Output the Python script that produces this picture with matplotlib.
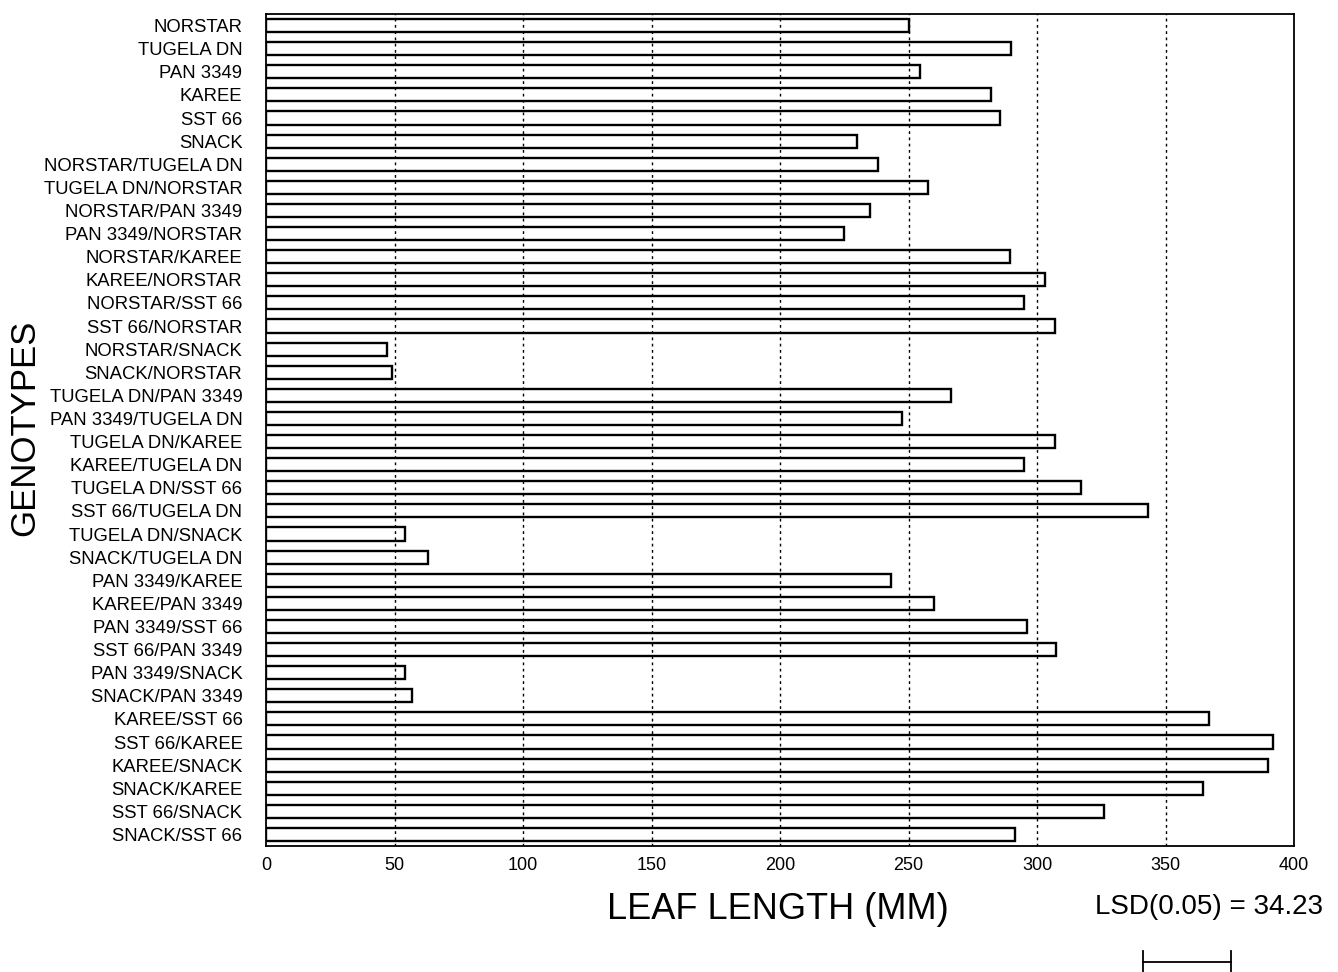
import matplotlib
matplotlib.use("Agg")
import matplotlib.pyplot as plt
from matplotlib.transforms import blended_transform_factory

plt.rcParams['font.family'] = ['Liberation Sans', 'DejaVu Sans']

genotypes = [
    "NORSTAR", "TUGELA DN", "PAN 3349", "KAREE", "SST 66", "SNACK",
    "NORSTAR/TUGELA DN", "TUGELA DN/NORSTAR", "NORSTAR/PAN 3349", "PAN 3349/NORSTAR",
    "NORSTAR/KAREE", "KAREE/NORSTAR", "NORSTAR/SST 66", "SST 66/NORSTAR",
    "NORSTAR/SNACK", "SNACK/NORSTAR", "TUGELA DN/PAN 3349", "PAN 3349/TUGELA DN",
    "TUGELA DN/KAREE", "KAREE/TUGELA DN", "TUGELA DN/SST 66", "SST 66/TUGELA DN",
    "TUGELA DN/SNACK", "SNACK/TUGELA DN", "PAN 3349/KAREE", "KAREE/PAN 3349",
    "PAN 3349/SST 66", "SST 66/PAN 3349", "PAN 3349/SNACK", "SNACK/PAN 3349",
    "KAREE/SST 66", "SST 66/KAREE", "KAREE/SNACK", "SNACK/KAREE",
    "SST 66/SNACK", "SNACK/SST 66",
]
leaf_length = [
    250, 290, 254.5, 282, 285.5, 230,
    238, 257.5, 235, 225,
    289.5, 303, 295, 307,
    47, 49, 266.5, 247.5,
    307, 295, 317, 343,
    54, 63, 243, 260,
    296, 307.5, 54, 57,
    367, 392, 390, 364.5,
    326, 291.5,
]
xticks = [0, 50, 100, 150, 200, 250, 300, 350, 400]
lsd_value = 34.23
lsd_label = "LSD(0.05) = 34.23"

W, H = 1338, 972
fig = plt.figure(figsize=(W / 100, H / 100), dpi=100)
ax = fig.add_axes([266 / W, 1 - 846 / H, (1294 - 266) / W, (846 - 14) / H])

ypos = list(range(len(genotypes)))
ax.barh(ypos, leaf_length, height=0.57, facecolor='white', edgecolor='black',
        linewidth=1.7, zorder=2)
ax.set_ylim(len(genotypes) - 0.5, -0.5)
ax.set_xlim(0, 400)
ax.set_xticks(xticks)
ax.set_xticklabels([str(t) for t in xticks], fontsize=13)
ax.set_yticks(ypos)
ax.set_yticklabels(genotypes, fontsize=13.3)
ax.tick_params(axis='y', length=0, pad=17)
ax.tick_params(axis='x', length=0, pad=8)
for s in ax.spines.values():
    s.set_linewidth(1.3)
for g in [50, 100, 150, 200, 250, 300, 350]:
    ax.axvline(g, color='black', linestyle=(0, (2, 2.5)), linewidth=1.0, zorder=3)

fig.text(778 / W, 1 - 909 / H, "LEAF LENGTH (MM)", fontsize=26, ha='center', va='center')
fig.text(25 / W, 1 - 428 / H, "GENOTYPES", fontsize=25, rotation=90, ha='center', va='center')
fig.text(1209 / W, 1 - 907 / H, lsd_label, fontsize=20, ha='center', va='center')

trans = blended_transform_factory(ax.transData, fig.transFigure)
x_center = 358.5
x0, x1 = x_center - lsd_value / 2, x_center + lsd_value / 2
yb = 1 - 962 / H
ax.plot([x0, x1], [yb, yb], color='black', linewidth=1.3, transform=trans, clip_on=False)
for xe in [x0, x1]:
    ax.plot([xe, xe], [yb - 11 / H, yb + 11 / H], color='black', linewidth=1.3,
            transform=trans, clip_on=False)

fig.savefig("out.png", dpi=100)
